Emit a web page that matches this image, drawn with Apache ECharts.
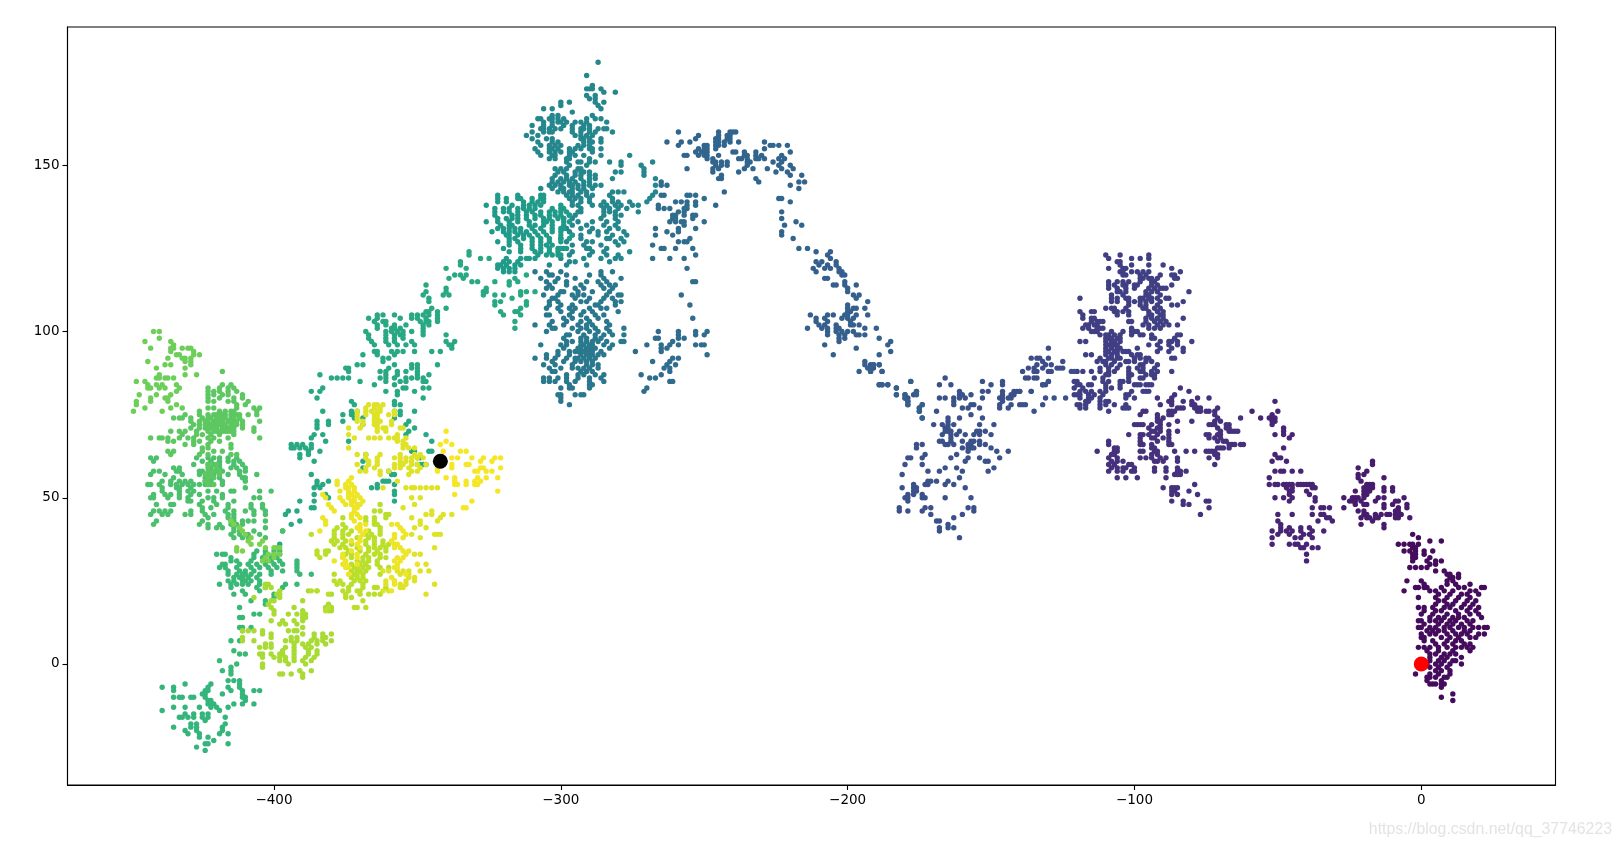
<!DOCTYPE html>
<html><head><meta charset="utf-8">
<style>html,body{margin:0;padding:0;background:#fff}#c{width:1621px;height:847px}</style>
<script src="https://cdn.jsdelivr.net/npm/echarts@6/dist/echarts.min.js"></script>
</head><body><div id="c"></div>
<script>
// Each row: [y, x, x, x ...]. Walk step = colour value.
const startValue=[0,0], endValue=[-342,61];
const xTicks=[-400,-300,-200,-100,0], yTicks=[0,50,100,150];
const viridis=['#440154','#482878','#3e4989','#31688e','#26828e','#1f9e89','#35b779','#6ece58','#b5de2b','#fde725'];

const walkA=[[-11,11],[-10,7],[-9,11],[-7,7],[-6,3,4,5,7,8],[-5,2,7],[-4,2,3,5,8,9],[-3,-2,3,6,10],[-2,5,7,10],[-1,3,6,9],[0,2,5,7,10,14],[1,1,3,6,8,11,12],[2,3,7,9,14],[3,3,5,8,10,12],[4,2,6,11,17],[5,-1,1,3,6,9,12,14,16,18],[6,5,8,11,15,17],[7,1,4,9,12,14],[8,0,1,7,10,13,17,19],[9,0,3,5,9,12,14,16,20,22],[10,2,4,6,8,11,15,17],[11,-1,0,3,5,8,10,13,15,18,20,23,22],[12,1,6,9,11,14,17],[13,-1,0,3,5,7,10,12,16,18],[14,3,6,8,11,13,15,21],[15,0,4,9,13,17,20],[16,1,5,7,12,16,19],[17,-1,1,4,8,10,14,17,20],[18,5,9,11,15,18],[19,6,8,12,16,19],[20,-1,5,9,13,17],[21,6,10,14,16,20],[22,-6,3,5,8,11,17,19],[23,-2,-1,1,2,7,13,15,21,22],[24,1,9,12,17],[25,-5,0,9,11],[26,10,11,13],[27,9,10,13],[28,5,8],[29,-4,-2,0,2],[30,3,5],[31,-3,2,5,7],[32,-3,-2,3],[33,-3,-2,1],[34,-6,-4,-2,1,4],[35,-3,-2],[36,-8,-6,-4,-3,-1],[37,3,7],[38,-1],[39,-3]];
const walkC=[[61,-17],[60,-17],[59,-22],[58,-19],[57,-22,-20],[56,-22,-13],[55,-21],[54,-19,-18,-17],[53,-20,-19,-18,-17,-13,-10],[52,-23,-20,-19,-18,-13,-10],[51,-20,-19],[50,-27,-24,-23,-22,-20,-15,-13,-6],[49,-25,-24,-23,-21,-16,-9,-8],[48,-23,-19,-20,-13,-10,-5],[47,-27,-13,-8,-5],[46,-22,-20,-9,-8],[45,-20,-19,-16,-14,-12,-11,-9,-8,-7],[44,-21,-19,-18,-16,-15,-9,-8,-4],[43,-17],[42,-21,-13],[41,-13]];
const walkB=[[79,-51],[76,-59,-50],[75,-52],[74,-56,-53,-52,-51],[73,-52,-51],[72,-52],[71,-48],[70,-48],[69,-51,-48,-45],[68,-46],[65,-48],[63,-51],[62,-50,-49],[61,-52,-47],[58,-51,-49,-48,-45,-42],[56,-53],[54,-53,-51,-50,-48,-47,-46,-45,-43,-42,-41,-40,-39,-38],[53,-47,-45,-38,-37],[52,-46,-45,-40],[51,-46,-39],[50,-51,-48,-45,-37],[49,-46,-37],[47,-38,-35,-34,-32],[45,-50,-45,-38,-35,-34],[44,-33,-32],[43,-50,-36,-31],[42,-49],[41,-49,-46,-42,-39],[40,-52,-49,-47,-45,-42,-38,-34],[39,-50,-46,-41,-39],[38,-52,-44,-42,-38],[36,-52,-46,-44,-43,-40],[35,-42,-41,-38,-36],[33,-40],[31,-40]];
const walkD=[[83,-84],[82,-81],[81,-86],[80,-92,-87,-78,-74],[79,-88,-87,-83,-80],[78,-91,-87,-80,-79],[77,-85,-84,-83,-79,-78,-77,-71],[76,-97,-96,-88,-87,-86,-78,-77,-75,-74,-72],[75,-98,-92,-88,-87,-72],[74,-92,-90,-71,-63],[73,-92,-91,-85,-80,-72,-70],[72,-100,-99,-98,-97,-94,-91,-88,-74,-73,-72,-68,-67],[71,-95,-92,-91,-71,-68,-67],[70,-94,-93,-91,-88,-85,-70,-67,-66,-65,-64],[69,-102,-98,-97,-95,-92,-88,-75,-74,-71,-70],[68,-98,-94,-93,-90,-88,-74,-72,-70],[67,-109,-98,-92,-88,-71,-69,-68],[66,-109,-98,-97,-94,-88,-87,-67,-66,-65,-63,-62],[65,-107,-106,-94,-93,-71,-70,-69,-67],[64,-113,-107,-106,-98,-97,-93,-92,-86,-82,-79,-75,-74,-73,-72],[63,-108,-107,-94,-92,-72,-71],[62,-109,-106,-98,-96,-94,-91,-89,-85,-74,-71],[61,-108,-106,-104,-93,-92,-90,-85],[60,-109,-107,-102,-101,-72],[59,-108,-106,-104,-103,-100,-93,-89,-85],[58,-109,-106,-104,-101,-100,-93,-89,-85,-84,-82],[57,-86,-85,-84],[56,-106,-103,-99,-89],[54,-79],[53,-90,-87,-86,-85],[52,-87,-86,-81],[51,-87,-85,-78],[49,-87,-83,-75,-74],[48,-83,-81],[47,-74],[45,-77]];
const walkE=[[123,-110,-105,-95],[122,-109,-101,-98,-95],[121,-106,-105],[120,-105,-101,-95,-90],[119,-109,-104,-103,-87],[118,-105,-104,-101,-99,-97,-95,-84],[117,-104,-103,-98,-96,-91,-87,-86],[116,-98,-97,-95,-94,-92,-86,-85],[115,-109,-106,-104,-102,-98,-94,-93],[114,-109,-107,-104,-103,-100,-99,-94,-92,-87],[113,-109,-106,-103,-100,-95,-93,-91,-90,-89],[112,-106,-105,-103,-96,-94,-92,-81],[111,-108,-104,-96,-95,-91],[110,-119,-108,-106,-103,-102,-98,-97,-95,-94,-92,-89,-88],[109,-108,-106,-102,-100,-98,-96,-94,-91,-83],[108,-102,-98,-96,-92,-87,-85],[107,-110,-108,-107,-103,-97,-96,-93,-91],[106,-119,-115,-114,-107,-106,-104,-102,-95,-92,-90],[105,-118,-106,-102,-95,-94,-91,-90],[104,-118,-115,-114,-96,-94,-92,-90,-83],[103,-115,-113,-112,-111,-102,-101,-96,-93,-91,-89],[102,-117,-116,-114,-113,-97,-95,-92,-90,-88,-85],[101,-118,-116,-113,-112,-111,-101,-95,-93,-91],[100,-115,-114,-113,-108,-104,-101,-100,-99],[99,-112,-110,-109,-107,-105,-101,-98,-97,-94,-85,-84],[98,-110,-109,-108,-106,-105,-94,-93,-86],[97,-119,-117,-110,-108,-107,-105,-91,-88,-87,-85,-80],[96,-110,-109,-108,-107,-106,-95,-92,-88,-85],[95,-110,-108,-106,-105,-99,-91,-87,-83],[94,-110,-109,-107,-106,-104,-103,-102,-92,-88,-83],[93,-117,-115,-110,-108,-106,-101,-99,-98],[92,-112,-109,-108,-106,-105,-100,-98,-96,-95,-87,-86],[91,-113,-111,-110,-107,-103,-102,-100,-96,-94],[90,-110,-108,-105,-98,-97,-92],[89,-112,-109,-106,-102,-99,-97,-93],[88,-120,-118,-115,-112,-109,-107,-102,-98,-97,-94,-92,-87],[87,-110,-109,-102,-101,-96,-94,-93],[86,-114,-111,-102,-98,-97,-93],[85,-121,-120,-111,-109,-105,-104,-102],[84,-120,-119,-116,-115,-110,-105,-100,-99,-98,-96,-95,-94],[83,-121,-118,-110,-108,-105],[82,-119,-117,-115,-112,-110,-101,-97,-96,-95],[81,-121,-120,-119,-116,-114,-111,-103,-102],[80,-119,-116,-115,-112,-103,-100],[79,-117,-116,-112,-110,-109],[78,-120,-119,-117,-112,-110,-107,-103],[77,-119,-117,-112,-104,-103,-102],[76,-109]];
const walkG=[[90,-192,-191,-189],[89,-192,-191],[88,-192,-188],[86,-166],[85,-178,-153,-146,-130],[84,-189,-188,-186,-168,-164,-150,-146,-132],[83,-183],[82,-176,-161,-153,-151,-146,-140,-136],[81,-183,-180,-177,-161,-160,-157,-146,-143,-142],[80,-180,-179,-168,-166,-163,-161,-159,-153,-147,-146,-144,-143,-131,-128,-124],[79,-179,-163,-146],[78,-179,-174,-163,-157,-156,-147,-143,-140,-139,-138,-132],[77,-175,-160,-158,-154,-147,-144],[76,-175,-169,-135],[75,-157],[74,-174,-165,-161,-153],[73,-165],[72,-170,-167,-165,-163,-154,-149],[71,-166,-165],[70,-166,-165,-164,-161,-155,-154,-152],[69,-167,-164,-162,-159,-156,-154,-150],[68,-164],[67,-168,-167,-164,-160,-157,-156,-154],[66,-176,-174,-166,-165,-163,-158,-157,-154,-152],[65,-176,-160,-158,-157,-156,-150],[64,-158,-148,-144],[63,-173,-162],[62,-179,-178,-174,-164,-158,-154,-147],[61,-159,-152,-151],[60,-180,-174],[59,-166,-162,-149],[58,-172,-168,-160,-151],[57,-181],[56,-161],[55,-172,-171,-169,-165],[54,-177,-173,-172,-166,-163],[53,-181,-177,-176,-159],[52,-177,-176],[51,-179,-177,-174],[50,-180,-179,-174,-173,-166,-157],[49,-179],[47,-182,-173,-171,-158,-156],[46,-182,-179,-174,-156],[45,-171,-160],[44,-163],[43,-169,-168],[42,-165],[41,-168,-165,-163],[40,-168],[38,-161]];
const walkF=[[95,-130],[92,-136,-134,-133,-130],[91,-132,-125],[90,-134,-131,-129],[89,-137,-135,-132,-127,-126,-125],[88,-139,-135,-134,-130,-129,-122,-121],[86,-138,-137,-135,-134],[85,-130],[84,-132,-131],[82,-136,-142,-141,-140]];
const walkH=[[124,-211,-206],[123,-207],[122,-206],[121,-211,-209,-204],[120,-210,-207,-204],[119,-212,-208,-206,-203],[118,-211,-203,-202],[117,-202,-201],[116,-208,-207],[115,-201],[114,-205,-204,-201,-197],[113,-200],[112,-200],[111,-198,-196],[110,-197],[109,-193],[108,-200],[107,-200,-198,-197,-194],[106,-200,-199],[105,-213,-207,-205,-201,-200,-197,-193],[104,-211,-208,-202,-200,-198],[103,-211,-207,-199],[102,-210,-208,-204,-199,-198,-196],[101,-214,-209,-207,-204,-203,-194,-190],[100,-207,-204,-202,-200,-198],[99,-207,-203,-201,-197,-196,-194],[98,-203,-201,-189],[97,-203,-185],[96,-208,-186],[95,-197],[94,-185],[93,-205,-189],[91,-194],[90,-194,-191,-189],[89,-193,-192],[88,-196,-192,-188],[85,-178],[84,-189,-188,-186],[83,-183],[82,-176],[81,-183,-180,-176],[80,-180],[79,-179],[78,-179,-174],[77,-175],[76,-175],[74,-174]];
const walkI=[[160,-259,-245,-241,-240,-239],[159,-252,-245,-242,-241],[158,-253,-246,-245,-242,-241],[157,-263,-258,-255,-246,-245,-243,-241,-238,-229],[156,-259,-250,-249,-246,-245,-243,-227,-226,-224,-221],[155,-252,-250,-249,-246,-229],[154,-253,-251,-250,-249,-240,-239,-236,-232,-220],[153,-257,-256,-252,-250,-249,-245,-236,-235,-232,-230,-223],[152,-249,-247,-238,-237,-235,-232,-231,-229,-224,-222],[151,-247,-246,-244,-242,-235,-234,-226,-223],[150,-246,-244,-242,-235,-224,-220],[149,-256,-247,-245,-236,-233,-228,-223,-219],[148,-247,-238,-225,-221],[147,-244,-220,-216],[146,-245,-244,-232],[145,-231,-217,-215],[144,-220],[143,-217],[142,-243],[140,-224,-223],[139,-220],[138,-246],[136,-223],[134,-223],[133,-218],[132,-222,-216],[130,-223],[129,-223],[128,-219],[125,-217,-214]];
const walkJ=[[145,-265],[144,-265,-263],[141,-265,-264,-256,-255,-253],[140,-250],[139,-260,-258,-256,-253],[138,-266,-256,-253],[137,-266,-264,-262,-257,-256],[136,-259,-257],[135,-261,-260,-257,-254,-253],[134,-261,-260,-254],[133,-262,-260,-258,-257,-250],[132,-257],[131,-267,-259,-253],[130,-263,-259],[129,-267,-261],[128,-255],[127,-259,-257,-256],[126,-268],[125,-265,-264,-260,-254],[123,-253],[122,-268,-262,-257],[119,-256],[115,-254,-253],[111,-258],[108,-255],[104,-254],[100,-266,-259,-253,-249],[99,-259,-253,-250],[98,-267,-266,-259,-257],[97,-261],[96,-270,-265,-262,-259,-253,-251,-250],[95,-265,-263],[94,-274,-265],[93,-249],[92,-261,-259],[91,-268,-262],[90,-263,-260],[89,-264,-262],[88,-262],[87,-272,-265],[86,-269,-267],[85,-262,-261],[83,-270],[82,-271]];
const walkK=[[78,-297],[79,-300],[80,-300],[81,-301,-300,-295,-293,-292],[83,-300,-297,-296,-290],[84,-297,-290,-289],[85,-306,-304,-302,-298,-295,-290,-285],[86,-306,-304,-301,-298,-294,-290,-286],[87,-298,-294,-292,-288,-285],[88,-303,-302,-293,-291,-289],[89,-304,-300,-296,-294,-292,-290,-287],[90,-306,-302,-296,-291,-289,-287],[91,-303,-299,-295,-293,-291,-289],[92,-309,-305,-302,-298,-295,-294,-292,-290,-288],[93,-305,-301,-297,-293,-291,-290,-289,-287,-285],[94,-301,-297,-295,-294,-293,-292,-291,-290,-289,-286],[95,-299,-294,-293,-291,-290,-289,-288,-283],[96,-307,-300,-298,-293,-292,-290,-289,-285,-282],[97,-298,-296,-293,-291,-289,-287,-284,-279,-278],[98,-299,-293,-291,-288,-286],[99,-298,-297,-292,-288,-285,-282,-278],[100,-305,-294,-290,-287,-283],[101,-303,-302,-296,-293,-291,-288,-284,-278],[102,-309,-304,-299,-294,-291,-289,-283],[103,-303,-298,-293,-290,-284],[104,-299,-296,-291,-287],[105,-305,-304,-297,-293,-288,-285],[106,-300,-296,-292,-289,-280],[107,-305,-301,-297,-295,-290,-286,-284],[108,-304,-300,-296,-288,-287,-281],[109,-304,-301,-293,-291,-286,-281,-279],[110,-303,-302,-295,-290,-285,-282],[111,-306,-301,-296,-294,-292,-284,-280,-279],[112,-300,-299,-294,-289,-283],[113,-305,-303,-295,-292,-285,-282],[114,-304,-298,-293,-286,-283,-281],[115,-305,-302,-298,-291,-287,-284],[116,-307,-301,-295,-285,-279],[117,-304,-303,-298,-290,-286],[118,-309,-305,-300,-286,-282]];
const walkL=[[181,-287],[177,-291],[174,-289],[173,-291,-290,-289,-286],[172,-285,-281],[171,-291,-288],[170,-290,-288],[169,-300,-297,-288,-285],[168,-300,-287],[167,-306,-303,-286],[166,-296],[165,-303,-301,-289],[164,-308,-307,-304,-303,-301,-299,-291,-288,-286],[163,-306,-303,-301,-300,-298,-295,-293,-291,-284],[162,-310,-306,-303,-299,-296,-292,-290],[161,-307,-306,-304,-302,-300,-296,-293,-292,-290,-287,-285,-284],[160,-310,-306,-304,-303,-296,-293,-290,-288,-282],[159,-312,-308,-295,-293,-291,-289],[158,-310,-305,-303,-293,-292,-290,-286],[157,-308,-303,-301,-292,-290,-289,-286],[156,-307,-304,-302,-300,-294,-292,-290],[155,-309,-304,-303,-301,-297,-295,-293,-290,-289,-286],[154,-308,-304,-302,-300,-297,-296,-289],[153,-307,-303,-302,-297,-295,-292,-286,-276],[152,-304,-302,-298,-297,-290],[151,-298,-294,-293,-290,-288,-283,-279,-268],[150,-297,-291,-279,-272],[149,-302,-300,-298,-294,-293,-271],[148,-301,-299,-295,-293,-292,-290,-281,-279,-271],[147,-302,-298,-295,-293,-290,-288,-271],[146,-303,-300,-298,-296,-293,-290,-288,-282,-267],[145,-303,-301,-299,-297,-295,-292,-290],[144,-304,-302,-300,-297,-296,-294,-292,-290,-288,-286,-267],[143,-307,-303,-300,-299,-296,-294,-292,-289],[142,-301,-299,-297,-296,-293,-291,-282,-280,-278,-267],[141,-298,-296,-294,-291,-289,-283,-268],[140,-297,-295,-293,-290,-282,-269],[139,-296,-293,-290,-285,-282,-280,-276,-270],[138,-296,-294,-289,-286,-284,-281,-279,-275,-273],[137,-293,-285,-283,-280,-277],[136,-294,-293,-285,-283,-281,-273],[135,-297,-295,-285,-281,-279],[134,-299,-296,-286,-281],[133,-294,-289,-284,-280],[132,-296,-291,-285,-281],[131,-298,-293,-289,-283,-280],[130,-297,-290,-287,-284,-278],[129,-296,-293,-287,-282,-277],[128,-300,-293,-284,-283,-279],[127,-298,-291,-289,-281,-278],[126,-296,-292,-286,-280],[125,-299,-291,-290,-284],[124,-296,-289,-285,-276],[123,-297,-290,-284,-280],[122,-300,-292,-286,-281,-279],[121,-297,-295,-283],[120,-304,-298,-291]];
const walkN1=[[141,-322,-315,-307,-306],[140,-322,-319,-315,-314,-310,-307,-306],[139,-322,-319,-313,-310,-308,-306],[138,-326,-317,-313,-311,-309,-307,-300],[137,-323,-320,-318,-315,-313,-311,-309,-303,-300,-299],[136,-323,-320,-318,-315,-312,-310,-307,-304,-302,-300,-298],[135,-323,-317,-315,-312,-309,-307,-304,-302,-300,-297],[134,-322,-319,-317,-315,-312,-309,-306,-304,-301,-299],[133,-326,-322,-318,-315,-311,-306,-305,-303,-299,-297],[132,-321,-318,-317,-311,-309,-306,-303,-299],[131,-322,-320,-318,-316,-314,-310,-307,-303,-300,-299],[130,-324,-320,-318,-316,-314,-312,-309,-306,-303,-300],[129,-319,-318,-315,-313,-311,-308,-305,-300,-296],[128,-318,-316,-313,-310,-307,-304,-300,-297],[127,-322,-318,-315,-310,-307,-304,-300],[126,-318,-314,-310,-307,-305,-303],[125,-320,-314,-310,-307,-304,-301,-300,-298],[124,-318,-314,-309,-307,-304,-301],[123,-308,-305,-303,-301,-300],[122,-319,-314,-312,-311,-309],[121,-320,-318,-315],[120,-322,-321,-319,-316,-314],[119,-322,-320,-318,-316],[118,-320,-318,-316]];
const walkN2=[[124,-332],[123,-332],[122,-328,-325],[121,-335],[120,-335],[119,-340,-333],[117,-337,-335,-333,-312],[116,-339,-334,-316],[115,-331,-329,-323,-318,-315],[114,-347,-318],[113,-340,-326],[112,-347,-340,-327,-326,-314,-312,-309],[111,-348,-341,-339,-327,-323,-320,-314],[110,-346,-317],[109,-346,-323,-321,-312],[108,-323,-312],[107,-345,-340,-314],[106,-347,-346,-343,-321,-316,-315],[105,-348,-343,-364,-362,-358,-352,-350,-346,-320,-314],[104,-367,-364,-356,-352,-350,-347,-343],[103,-365,-362,-361,-349,-347,-343,-346,-316],[102,-364,-361,-358,-354,-348,-346],[101,-364,-359,-358,-356,-348,-316],[100,-368,-361,-359,-357,-355,-352,-348],[99,-367,-361,-358,-356,-355,-340,-348],[98,-367,-361,-358,-355],[97,-366,-361,-358,-352,-340,-337],[96,-365,-360,-357,-354,-351,-339,-338],[95,-338],[94,-365,-364,-359,-357,-355,-351,-345,-342],[93,-369,-364,-358],[92,-362,-360],[91,-362],[90,-371,-369,-358,-352,-350,-343],[89,-375,-374,-360,-352,-350],[88,-374,-363,-361,-357,-354,-350],[87,-384,-361,-357,-350,-346],[86,-380,-378,-376,-374,-363,-361,-358,-354,-352,-350,-348],[85,-370,-361,-356,-354,-348,-347],[84,-365,-358],[83,-383,-355,-354,-348,-346],[82,-387,-384,-361,-357,-351],[81,-357],[80,-385,-348],[79,-373,-358],[78,-372,-358,-356],[76,-383,-373,-371,-358,-356,-351],[75,-376,-373,-372,-356],[74,-372,-369,-358],[73,-385,-381,-353,-376],[72,-385,-381,-369,-354],[71,-385,-351],[70,-353],[69,-386,-383,-354,-347],[68,-387],[67,-382,-374,-345],[66,-394,-392,-390,-387],[65,-394,-393,-391,-389,-387],[64,-388,-384,-351,-345,-352,-346],[63,-391,-388,-368],[62,-391,-350,-349],[61,-386,-369],[60,-349,-348,-347,-350],[59,-369],[58,-360],[57,-387,-359,-358],[55,-381,-385,-362,-361,-360],[54,-385,-383,-364,-358],[53,-386,-384,-366,-364],[52,-358],[51,-386,-382,-358],[50,-381],[49,-391,-386,-358],[47,-387,-386],[46,-395,-392],[45,-396],[43,-391],[42,-394],[40,-397],[36,-398]];
const walkS=[[-5,-416,-414,-412],[-6,-431,-422,-412],[-7,-439,-435,-423,-416,-412],[-8,-435,-424,-423,-415,-411,-407,-405],[-9,-425,-424,-418,-411],[-10,-435,-433,-432,-429,-428,-424,-411,-410],[-11,-423,-422,-410],[-12,-423,-422,-421,-414,-411,-407],[-13,-435,-431,-426,-422,-420,-416],[-14,-439,-419],[-15,-431,-428,-425,-423],[-16,-433,-432,-430,-428,-425,-423,-417],[-17,-424],[-18,-429,-427,-417],[-19,-435,-429,-427,-418],[-20,-431,-427,-418],[-21,-430,-426,-419,-416],[-22,-426,-423],[-23,-421],[-24,-424,-423,-416],[-25,-427],[-26,-424]];
const walkT=[[34,-406,-403,-400,-398],[33,-420,-418,-417,-407,-403,-400,-398],[32,-415,-407,-404,-401,-399],[31,-415,-413,-408,-403,-401,-398,-392],[30,-418,-417,-412,-409,-406,-403,-400,-397,-392],[29,-419,-417,-413,-408,-405,-402,-399,-392],[28,-416,-412,-410,-407,-401,-397,-392],[27,-416,-413,-411,-410,-408,-405,-401,-391,-387],[26,-414,-412,-411,-409,-406],[25,-416,-414,-411,-410,-408,-405],[24,-419,-415,-413,-411,-409,-405,-396,-392],[23,-415,-406,-403,-397],[22,-411,-405],[21,-414,-410,-400],[20,-400],[19,-408,-403],[18,-403],[17,-412],[15,-407,-405],[14,-412,-411],[11,-412,-411,-408],[10,-411],[7,-415,-412],[4,-414],[3,-412,-410],[1,-419],[0,-413],[-1,-415],[-2,-418,-415],[-3,-415]];
const walkO=[[62,-443,-441,-427,-423,-421,-419,-416,-413],[61,-442,-425,-422,-419,-416,-414,-412],[60,-428,-423,-421,-419,-414,-411],[59,-435,-433,-422,-419,-415,-413,-410],[58,-442,-440,-434,-433,-426,-425,-422,-420,-418,-412,-410],[57,-443,-438,-432,-426,-423,-421,-416,-412,-406],[56,-435,-424,-422,-419,-411,-410],[55,-439,-436,-433,-431,-429,-424,-422,-418,-410],[54,-444,-443,-440,-436,-434,-432,-430,-428,-426,-424,-422,-418],[53,-439,-434,-433,-429,-410],[52,-439,-433,-430,-428,-423,-420,-415,-414,-405,-401],[51,-442,-438,-436,-433,-429,-426,-418],[50,-443,-442,-437,-433,-430,-423,-421,-418,-405,-407],[49,-430,-429,-425,-421,-414],[48,-441,-436,-435,-426,-420,-416,-408,-404],[47,-425,-422,-416,-408,-404],[46,-442,-440,-438,-436,-429,-425,-417,-414,-410,-407,-403],[45,-443,-439,-437,-431,-429,-424,-421,-416,-414,-407,-403],[44,-423,-416,-414],[43,-441,-425,-415,-414,-411,-409,-407,-403],[42,-442,-426,-423,-419,-415,-413,-411],[41,-423,-420,-418,-414,-412,-403],[40,-414,-412,-407,-397],[39,-415,-412,-409,-405],[38,-414,-411,-409,-403]];
const walkO2=[[88,-418],[84,-418,-415],[83,-423,-419,-416,-414],[82,-423,-421,-419,-416,-413],[81,-423,-421,-418,-416,-411],[80,-423,-419,-414,-411],[79,-423,-421,-416,-414,-409],[78,-413,-410],[77,-423,-421,-413,-407,-405],[76,-426,-419,-417,-415,-414,-406],[75,-431,-426,-423,-421,-420,-419,-418,-417,-415,-414,-413,-412,-409,-406],[74,-435,-433,-432,-429,-425,-423,-422,-420,-419,-418,-417,-415,-414,-412],[73,-429,-426,-424,-423,-421,-420,-419,-418,-416,-415,-414,-413,-411,-405],[72,-428,-426,-424,-423,-422,-421,-420,-419,-418,-417,-415,-414,-413,-411],[71,-429,-426,-424,-423,-422,-421,-420,-418,-417,-416,-415,-414,-411,-407],[70,-436,-433,-431,-427,-423,-421,-420,-419,-418,-417,-416,-415,-414,-407],[69,-432,-427,-425,-422,-419,-414],[68,-443,-440,-439,-437,-433,-430,-428,-423,-421,-416,-405],[67,-437,-435,-428,-426,-422,-419],[66,-431,-428,-423,-415],[65,-425,-423,-415],[64,-437,-435,-425,-421,-418],[63,-436,-426,-423,-415,-413],[60,-423,-422,-420],[59,-423,-420],[58,-423,-421,-419],[57,-424,-422,-419],[56,-423,-421],[55,-424,-423],[54,-423,-421]];
const walkO3=[[100,-442,-440],[98,-440],[97,-445,-436],[96,-435],[95,-443,-436,-435,-432,-430,-429],[94,-436,-428],[93,-434,-433,-428,-426],[92,-437,-432,-431,-429],[91,-444,-431,-429],[90,-438,-436,-429],[89,-441,-431],[87,-440,-431,-427],[86,-441,-440,-438,-437,-435],[85,-448,-445],[84,-444,-441,-439,-434],[83,-444,-443,-440,-438,-433],[82,-434],[81,-447,-441,-436],[80,-443,-438,-437],[79,-448,-443,-437],[78,-448,-434],[77,-445,-436,-432],[76,-449,-439]];
const walkU=[[35,-413,-403,-400,-399,-398],[34,-413,-411],[33,-402,-400,-398],[32,-403,-400],[31,-404,-402],[43,-415],[42,-414],[41,-412],[40,-411],[39,-410],[38,-408],[37,-409,-404],[36,-408,-405]];
const walkP=[[24,-403,-402],[23,-403,-401],[22,-398,-388,-385],[21,-399,-398,-380],[20,-407,-398],[19,-401,-400,-390],[18,-402,-381],[17,-401,-393,-382,-380],[16,-400,-390,-381,-380],[15,-400,-395,-392,-390,-389],[14,-390,-389],[13,-401,-397,-393,-390],[12,-398,-396,-392],[11,-390],[10,-411,-409,-407,-404,-395,-393,-392],[9,-404,-401,-390,-386,-383,-380],[8,-411,-401,-394,-392,-386,-383,-382],[7,-411,-407,-396,-394,-392,-387,-385,-383,-380],[6,-403,-401,-393,-390,-388,-385,-382],[5,-405,-403,-401,-396,-393,-389,-387],[4,-397,-393,-388,-385],[3,-405,-404,-401,-398,-397,-393,-388,-385],[2,-404,-400,-398,-396,-393,-389,-386],[1,-398,-396,-393,-390,-387],[0,-404,-395,-389],[-1,-404],[-2,-391,-387],[-3,-398,-397,-394,-390],[-4,-390]];
const walkQ1=[[48,-363],[46,-365,-363],[45,-361,-360],[44,-376,-368,-365,-361],[43,-368,-365],[42,-376,-365,-364],[41,-378,-375,-363],[40,-379,-376,-373,-367,-363],[39,-387,-379,-376,-374,-368,-366,-363],[38,-379,-376,-371,-367,-365],[37,-380,-378,-375,-373,-368,-365,-362],[36,-379,-376,-373,-368,-365,-362,-360],[35,-377,-375,-371,-367,-365,-363,-361],[34,-385,-382,-381,-374,-370,-367,-364,-361],[33,-385,-382,-375,-373,-368,-365,-363],[32,-384,-376,-373,-369,-367,-363,-361],[31,-371,-369,-367,-364],[30,-373,-370,-368,-364],[29,-372,-371,-369,-367,-363,-360],[28,-373,-371,-370,-368],[27,-379,-372,-371,-369,-363],[26,-373,-371,-369],[25,-379,-377,-372,-370,-368],[24,-378,-376,-373,-369],[23,-374,-369,-365,-364,-361],[22,-387,-385,-376,-374,-371,-370],[21,-381,-375,-370,-367,-365,-363],[20,-375,-373],[19,-369],[17,-381,-372,-371,-368],[16,-382]];
const walkQ3=[[45,-347,-345,-341,-338],[46,-345],[44,-352,-342],[43,-343,-349],[42,-349],[41,-351,-347],[39,-352,-344,-343,-342],[38,-349],[35,-344],[33,-351,-349],[30,-347],[28,-362,-360,-357,-355,-353,-349,-346],[27,-356,-353],[26,-353,-351],[25,-361,-358,-354,-351],[24,-361,-356,-354,-344],[23,-356,-355],[22,-362,-360],[21,-347],[78,-367,-365,-364,-362],[77,-368,-365,-363],[76,-371,-368,-366,-364,-363,-358],[75,-371,-368,-365,-364,-360,-358],[74,-371,-365,-364],[73,-371,-369,-365,-364,-363,-359],[72,-369,-365,-364,-359],[71,-374,-370,-364,-362,-361,-356,-355],[70,-364,-361],[69,-374,-357],[68,-372,-367,-365,-363,-360,-358,-357,-354],[67,-357,-355],[66,-355,-354],[65,-374,-355,-353,-351],[63,-371,-368,-363,-356,-351,-349],[62,-368,-364,-358,-356,-354,-352,-350,-348],[61,-367,-364,-356,-354,-352],[60,-371,-367,-364,-358,-356,-355,-352,-350,-347],[59,-368,-365,-358,-356,-353,-349],[58,-370,-368,-363,-360,-352,-350],[57,-363,-353],[55,-357],[53,-362,-354,-352,-351,-349,-347,-345,-343],[50,-352,-349],[48,-351],[47,-355]];
const walkQ2=[[56,-373],[55,-378,-374],[54,-378,-375,-373],[53,-375,-374,-372],[52,-377,-374,-372],[51,-383,-374,-373,-371],[50,-382,-377,-374,-372,-370],[49,-376,-373,-372,-369],[48,-381,-375,-373,-371,-370],[47,-380,-372,-371],[46,-379,-372],[45,-373,-371],[44,-383,-373,-370],[43,-382,-372],[42,-382,-370,-368,-359,-357],[41,-371,-370,-356],[40,-384,-370,-368,-355],[39,-369,-358,-354],[38,-370,-358,-355],[37,-373,-370,-359],[36,-371,-358,-357],[35,-370,-358,-356],[34,-373,-355,-353],[33,-376,-371,-354],[32,-376,-371,-357,-355],[31,-379,-375,-358,-356],[30,-376,-375,-371,-357,-350],[29,-375,-374,-358,-357],[27,-374,-354],[26,-359],[25,-358],[24,-358],[22,-359]];
const walkR=[[70,-340],[67,-340],[66,-342,-338],[64,-341,-335,-333],[62,-338,-336,-331,-327,-323,-321],[61,-328,-324],[60,-338,-333,-332],[59,-343,-338,-328,-327,-321],[58,-343,-330,-329,-326,-324],[56,-340,-337,-329,-326,-322],[55,-337,-333,-330,-328],[54,-337,-336,-333,-330,-329],[52,-322],[51,-337],[49,-331],[47,-334,-333]];

// [rows, colour value along the walk]; later entries draw on top
const walkParts=[[walkA,150],[walkC,380],[walkB,500],[walkD,700],[walkE,950],[walkF,1180],[walkG,1260],[walkH,1500],[walkI,1620],[walkJ,1750],[walkK,2000],[walkL,2330],[walkN1,2720],[walkN2,3000],[walkS,3280],[walkT,3380],[walkO,3560],[walkO2,3720],[walkO3,3880],[walkU,4000],[walkP,4340],[walkQ1,4480],[walkQ3,4760],[walkQ2,4880],[walkR,4940]];
const points=[];
walkParts.forEach(([rows,step])=>rows.forEach(([y,...xs])=>xs.forEach(x=>points.push([x,y,step]))));

const axisText={color:'#000',fontSize:13.5,fontFamily:'"DejaVu Sans"',formatter:v=>String(v).replace('-','\u2212')};
const chart=echarts.init(document.getElementById('c'),null,{renderer:'canvas'});
chart.setOption({
  animation:false,
  backgroundColor:'#fff',
  grid:{left:67.5,top:27,width:1488,height:758,show:true,borderColor:'#000',borderWidth:1.1,backgroundColor:'transparent'},
  xAxis:{type:'value',min:-472,max:46.8,splitLine:{show:false},
    axisLine:{show:true,onZero:false,lineStyle:{color:'#000',width:1.1}},
    axisTick:{show:true,length:5,customValues:xTicks,lineStyle:{color:'#000',width:1.1}},
    axisLabel:{...axisText,margin:8,customValues:xTicks}},
  yAxis:{type:'value',min:-36.4,max:191.6,splitLine:{show:false},
    axisLine:{show:true,onZero:false,lineStyle:{color:'#000',width:1.1}},
    axisTick:{show:true,length:5,customValues:yTicks,lineStyle:{color:'#000',width:1.1}},
    axisLabel:{...axisText,margin:8,padding:[2,0,0,0],customValues:yTicks}},
  visualMap:{show:false,type:'continuous',seriesIndex:0,dimension:2,min:0,max:5000,inRange:{color:viridis}},
  series:[
    {type:'scatter',data:points,symbolSize:5.4,progressive:0,large:false,itemStyle:{opacity:1},silent:true},
    {type:'scatter',data:[startValue],symbolSize:15,itemStyle:{color:'#ff0000',opacity:1},silent:true,z:3},
    {type:'scatter',data:[endValue],symbolSize:15,itemStyle:{color:'#000',opacity:1},silent:true,z:3}
  ],
  graphic:[{type:'text',right:9,top:822,silent:true,style:{text:'https://blog.csdn.net/qq_37746223',fill:'#e3e3e3',font:'15.85px "Liberation Sans"'}}]
});
</script></body></html>
